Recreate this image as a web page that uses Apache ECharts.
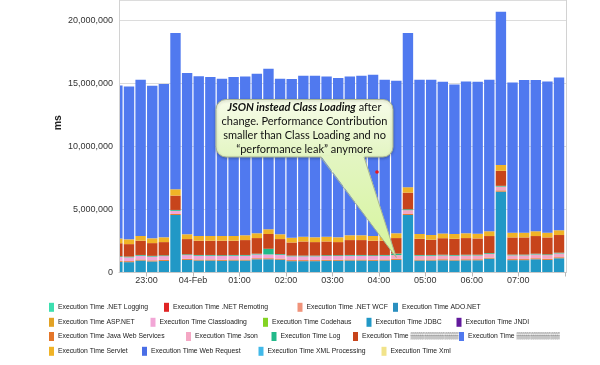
<!DOCTYPE html>
<html><head><meta charset="utf-8">
<script src="https://cdn.jsdelivr.net/npm/echarts@6/dist/echarts.min.js"></script>
<style>html,body{margin:0;padding:0;background:#fff}#c{width:600px;height:365px}</style>
</head><body><div id="c"></div>
<script>
// 15-minute slots (start times), 03-Feb 22:15 .. 04-Feb 07:45
const slotStarts = ["22:15","22:30","22:45","23:00","23:15","23:30","23:45","00:00","00:15","00:30","00:45","01:00","01:15","01:30","01:45","02:00","02:15","02:30","02:45","03:00","03:15","03:30","03:45","04:00","04:15","04:30","04:45","05:00","05:15","05:30","05:45","06:00","06:15","06:30","06:45","07:00","07:15","07:30","07:45"];
const hourTicks = ["23:00","00:00","01:00","02:00","03:00","04:00","05:00","06:00","07:00"];
const hourLabels = ["23:00","04-Feb","01:00","02:00","03:00","04:00","05:00","06:00","07:00"];
const yTickValues = [0, 5000000, 10000000, 15000000, 20000000];

// values in millions of ms
const jdbcValues = [0.85,0.82,0.95,0.88,0.92,4.56,1.00,0.95,0.95,0.93,0.95,0.95,1.05,1.05,1.02,0.90,0.90,0.90,0.93,0.93,0.95,0.95,0.93,0.95,1.00,4.56,0.95,0.95,0.97,0.95,0.97,0.97,1.10,6.41,0.98,0.98,1.05,1.00,1.13];
const javaWebServicesValues = [0.08,0.08,0.08,0.08,0.08,0.08,0.08,0.08,0.08,0.08,0.08,0.08,0.08,0.08,0.08,0.08,0.08,0.08,0.08,0.08,0.08,0.08,0.08,0.08,0.08,0.08,0.08,0.08,0.08,0.08,0.08,0.08,0.08,0.10,0.08,0.08,0.08,0.08,0.08];
const classloadingValues = [0.30,0.30,0.30,0.30,0.30,0.25,0.30,0.30,0.30,0.30,0.30,0.30,0.30,0.30,0.30,0.30,0.30,0.30,0.30,0.30,0.30,0.30,0.30,0.30,null,null,null,null,null,null,null,null,null,null,null,null,null,null,null];
const jsonValues = [null,null,null,null,null,null,null,null,null,null,null,null,null,null,null,null,null,null,null,null,null,null,null,null,0.30,0.30,0.30,0.30,0.30,0.30,0.30,0.30,0.30,0.30,0.30,0.30,0.30,0.30,0.30];
const logValues = [0.06,0.06,0.06,0.06,0.06,0.07,0.06,0.06,0.06,0.06,0.06,0.06,0.06,0.45,0.06,0.06,0.06,0.06,0.06,0.06,0.06,0.06,0.06,0.06,0.12,0.07,0.06,0.06,0.06,0.06,0.06,0.06,0.06,0.06,0.06,0.06,0.06,0.06,0.06];
const maskedAValues = [1.03,0.99,1.13,1.01,1.05,1.14,1.21,1.13,1.13,1.15,1.13,1.18,1.24,1.17,1.19,1.04,1.12,1.07,1.09,1.04,1.18,1.18,1.15,1.13,1.23,1.32,1.28,1.21,1.31,1.28,1.32,1.29,1.35,1.19,1.36,1.36,1.40,1.34,1.40];
const servletValues = [0.38,0.38,0.38,0.38,0.38,0.50,0.38,0.38,0.38,0.38,0.38,0.38,0.38,0.38,0.38,0.38,0.38,0.38,0.38,0.38,0.38,0.38,0.38,0.38,0.38,0.43,0.38,0.38,0.38,0.38,0.38,0.38,0.38,0.47,0.38,0.38,0.38,0.38,0.38];
const maskedBValues = [12.13,12.12,12.38,12.09,12.15,12.38,12.78,12.66,12.59,12.46,12.59,12.59,12.64,12.72,12.33,12.57,12.76,12.81,12.70,12.62,12.59,12.65,12.77,12.38,12.09,12.22,12.23,12.30,12.02,11.85,12.03,12.04,12.01,12.14,11.90,12.09,11.98,11.98,12.11];
const emptyValues = [];

const MASK_A = "Execution Time \u2592\u2592\u2592\u2592\u2592\u2592\u2592\u2592\u2592\u2592";
const MASK_B = "Execution Time \u2592\u2592\u2592\u2592\u2592\u2592\u2592\u2592\u2592";

// stack order bottom -> top
const seriesDefs = [
  ["Execution Time JDBC", "#2198c6", jdbcValues],
  ["Execution Time Java Web Services", "#e4762a", javaWebServicesValues],
  ["Execution Time Classloading", "#f2a6d6", classloadingValues],
  ["Execution Time Json", "#f4a7c4", jsonValues],
  ["Execution Time Log", "#22b98a", logValues],
  [MASK_A, "#c7441b", maskedAValues],
  ["Execution Time Servlet", "#f0b326", servletValues],
  [MASK_B, "#5079ef", maskedBValues],
  ["Execution Time .NET Logging", "#3ddfb0", emptyValues],
  ["Execution Time .NET Remoting", "#e02424", emptyValues],
  ["Execution Time .NET WCF", "#f0937a", emptyValues],
  ["Execution Time ADO.NET", "#2a8fbf", emptyValues],
  ["Execution Time ASP.NET", "#e2a224", emptyValues],
  ["Execution Time Codehaus", "#84d324", emptyValues],
  ["Execution Time JNDI", "#621a9c", emptyValues],
  ["Execution Time Web Request", "#4a6ee6", emptyValues],
  ["Execution Time XML Processing", "#41b9e9", emptyValues],
  ["Execution Time Xml", "#f1e38a", emptyValues]
];

// legend rows
const legendRows = [
  ["Execution Time .NET Logging","Execution Time .NET Remoting","Execution Time .NET WCF","Execution Time ADO.NET"],
  ["Execution Time ASP.NET","Execution Time Classloading","Execution Time Codehaus","Execution Time JDBC","Execution Time JNDI"],
  ["Execution Time Java Web Services","Execution Time Json","Execution Time Log",MASK_A,MASK_B],
  ["Execution Time Servlet","Execution Time Web Request","Execution Time XML Processing","Execution Time Xml"]
];
const legendLeft = [[49,164,297.5,393],[49,150.5,263,366.5,456.5],[49,186,271.5,353,459],[49,142,258.5,381.5]];
const legendRowY = [307.3,322.3,336.5,351.3];

const BASE = new Date(2013,1,3,22,0,0).getTime();
function toMin(s){const p=s.split(":");const h=+p[0],m=+p[1];let t=h*60+m;if(h<12)t+=1440;return t-22*60;}
function toTs(min){return BASE + min*60000;}
const slotCenters = slotStarts.map(s=>toTs(toMin(s)+7.5));
const tickTs = hourTicks.map(s=>toTs(toMin(s)));
function fmt(v){return String(Math.round(v)).replace(/\B(?=(\d{3})+(?!\d))/g, ",");}

const BAR_W = 10.4, PLOT_W = 447, PLOT_L = 119, PLOT_H = 272.5;
// desired visible window (minutes after 22:00); ECharts widens a bar axis by the bar width, so pre-shrink it
const viewMin = 24.6, viewMax = 601.5;
const shrink = (viewMax - viewMin) * (BAR_W / PLOT_W) / 2;
const axisMin = viewMin + shrink, axisMax = viewMax - shrink;

const series = seriesDefs.map(d=>({
  name:d[0], type:'bar', stack:'total', barWidth:BAR_W, clip:true,
  itemStyle:{color:d[1]},
  emphasis:{disabled:true},
  data:d[2].map((v,i)=>[slotCenters[i], v==null? null : v*1e6])
}));

const legends = [];
legendRows.forEach((row,r)=>row.forEach((name,c)=>{
  legends.push({data:[name], left:legendLeft[r][c], top:legendRowY[r]-4.5, padding:0, itemGap:0,
    itemWidth:5, itemHeight:9, icon:'rect', selectedMode:false,
    textStyle:{fontSize:6.8, color:'#1a1a1a', fontFamily:'Liberation Sans, Arial, sans-serif', padding:[0,0,0,-1]}});
}));

const chart = echarts.init(document.getElementById('c'), null, {renderer:'canvas'});
chart.setOption({
  animation:false,
  color: seriesDefs.map(d=>d[1]),
  textStyle:{fontFamily:'Liberation Sans, Arial, sans-serif'},
  grid:{left:PLOT_L, right:600-PLOT_L-PLOT_W, top:0, bottom:365-PLOT_H, show:false},
  legend: legends,
  xAxis:{type:'time', min:toTs(axisMin), max:toTs(axisMax), minInterval:3600000, maxInterval:3600000, z:10,
    axisLine:{show:true, lineStyle:{color:'#c8c8c8'}},
    axisTick:{show:true, length:4, lineStyle:{color:'#b8b8b8'}},
    axisLabel:{fontSize:9, color:'#333', margin:4, hideOverlap:false, showMinLabel:false, showMaxLabel:false,
      formatter:(v)=>{const i=tickTs.findIndex(t=>Math.abs(t-v)<1000);return i>=0?hourLabels[i]:'';}},
    splitLine:{show:false}},
  yAxis:[
   {type:'value', min:0, max:21600000, interval:5000000,
    axisLine:{show:false}, axisTick:{show:false}, axisLabel:{show:false},
    splitLine:{lineStyle:{color:'#dcdcdc'}}},
   {type:'value', position:'left', min:0, max:21600000, interval:5000000, z:10,
    name:'ms', nameLocation:'middle', nameGap:55, nameRotate:90, nameMoveOverlap:false,
    nameTextStyle:{fontSize:10.5, fontWeight:'bold', color:'#222', padding:[0,0,0,27]},
    axisLine:{show:true, lineStyle:{color:'#d2d2d2'}}, axisTick:{show:false},
    axisLabel:{fontSize:9, color:'#333', margin:6, showMaxLabel:false,
      formatter:(v)=>yTickValues.indexOf(v)>=0?fmt(v):''},
    splitLine:{show:false}},
   {type:'value', position:'right', min:0, max:21600000, interval:5000000,
    axisLine:{show:true, lineStyle:{color:'#d2d2d2'}}, axisTick:{show:false},
    axisLabel:{show:false}, splitLine:{show:false}}],
  series: series
});

// callout annotation pointing at the 04:15 slot; white mask trims the first bar at the plot's left edge
const tip = chart.convertToPixel({xAxisIndex:0, yAxisIndex:0}, [slotCenters[slotStarts.indexOf("04:15")], 1.19e6]);
chart.setOption({graphic:[
  {type:'rect', z:5, silent:true, shape:{x:PLOT_L-14, y:0, width:14, height:PLOT_H+0.5}, style:{fill:'#ffffff'}},
  {type:'rect', shape:{x:216, y:99.5, width:177, height:57.5, r:10}, z:100,
   style:{fill:new echarts.graphic.LinearGradient(0,0,0,1,[{offset:0,color:'#f7fce9'},{offset:1,color:'#e3f5c2'}]),
     stroke:'#a8b493', lineWidth:1, shadowBlur:3, shadowColor:'rgba(0,0,0,0.25)', shadowOffsetY:1}},
  {type:'polygon', z:101, shape:{points:[[320.5,155.5],[364,155.5],[tip[0],tip[1]]]},
   style:{fill:new echarts.graphic.LinearGradient(0,0,0,1,[{offset:0,color:'#e3f5c2'},{offset:1,color:'#d6f59c'}])}},
  {type:'polyline', z:102, shape:{points:[[320.5,157],[tip[0],tip[1]],[364,157]]},
   style:{stroke:'#a8b493', lineWidth:1, fill:null}},
  {type:'text', z:103, x:304.5, y:128.5,
   style:{text:'{bi|JSON instead Class Loading} after\nchange. Performance Contribution\nsmaller than Class Loading and no\n\u201Cperformance leak\u201D anymore',
     align:'center', verticalAlign:'middle', fontSize:11, fontFamily:'Lato, sans-serif', fill:'#111', lineHeight:13.7,
     rich:{bi:{fontStyle:'italic', fontWeight:'bold', fontSize:11, fontFamily:'Lato, sans-serif', fill:'#111', lineHeight:13.7}}}},
  {type:'circle', z:104, shape:{cx:377, cy:172, r:1.8}, style:{fill:'#e8161b'}}
]});
</script>
</body></html>
